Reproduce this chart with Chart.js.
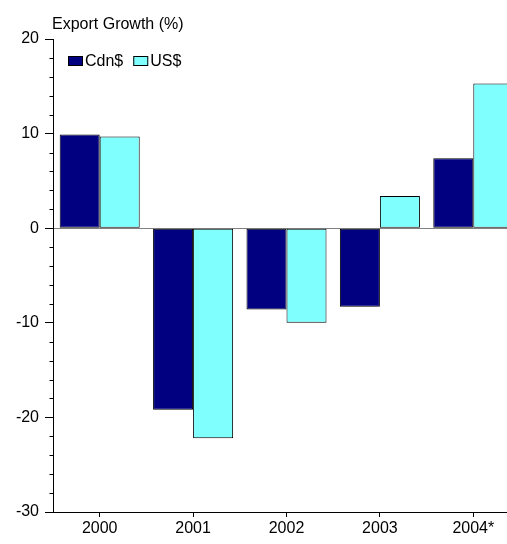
<!DOCTYPE html>
<html>
<head>
<meta charset="utf-8">
<script src="https://cdn.jsdelivr.net/npm/chart.js@4/dist/chart.umd.min.js"></script>
<style>
    html, body { margin: 0; padding: 0; background: #fff; overflow: hidden; }
    canvas { display: block; }
</style>
</head>
<body>
<canvas id="exportChart" width="520" height="544"></canvas>
<script>
const years = ['2000', '2001', '2002', '2003', '2004*'];
const cdnGrowth = [9.9, -19.2, -8.6, -8.3, 7.4];
const usGrowth = [9.7, -22.2, -10.0, 3.4, 15.3];
const yMin = -30;
const yMax = 20;

const fontFamily = '"Liberation Sans", Arial, sans-serif';

// short unlabelled ticks every 2 points between the labelled ones
const minorTicks = {
    id: 'minorTicks',
    afterDraw(chart) {
        const y = chart.scales.y;
        const ctx = chart.ctx;
        const x0 = Math.round(y.right) + 0.5;
        ctx.save();
        ctx.strokeStyle = '#000';
        ctx.lineWidth = 1;
        for (let v = yMin; v <= yMax; v += 2) {
            if (v % 10 === 0) continue;
            const py = Math.round(y.getPixelForValue(v)) + 0.5;
            ctx.beginPath();
            ctx.moveTo(x0 - 4, py);
            ctx.lineTo(x0, py);
            ctx.stroke();
        }
        ctx.restore();
    }
};

// title above the axis and a one-row legend in the top-left of the plot
const titleAndKey = {
    id: 'titleAndKey',
    afterDraw(chart) {
        const ctx = chart.ctx;
        const area = chart.chartArea;
        ctx.save();
        ctx.fillStyle = '#000';
        ctx.font = '16px ' + fontFamily;
        ctx.textBaseline = 'alphabetic';
        ctx.fillText('Export Growth (%)', 52, 29);

        let x = area.left + 15;
        const top = area.top + 17;
        chart.data.datasets.forEach(ds => {
            ctx.fillStyle = ds.backgroundColor;
            ctx.fillRect(x, top, 15, 10);
            ctx.strokeStyle = '#000';
            ctx.lineWidth = 1;
            ctx.strokeRect(x + 0.5, top + 0.5, 14, 9);
            ctx.fillStyle = '#000';
            ctx.fillText(ds.label, x + 17, top + 10);
            x += 17 + ctx.measureText(ds.label).width + 10;
        });
        ctx.restore();
    }
};

new Chart(document.getElementById('exportChart'), {
    type: 'bar',
    data: {
        labels: years,
        datasets: [{
            label: 'Cdn$',
            data: cdnGrowth,
            backgroundColor: '#000080',
            borderColor: '#000',
            borderWidth: 1,
            borderSkipped: false
        }, {
            label: 'US$',
            data: usGrowth,
            backgroundColor: '#80FFFF',
            borderColor: '#000',
            borderWidth: 1,
            borderSkipped: false
        }]
    },
    options: {
        responsive: false,
        animation: false,
        layout: { padding: { top: 39, left: 0, right: 0, bottom: 0 } },
        datasets: { bar: { categoryPercentage: 0.857, barPercentage: 1.0 } },
        plugins: {
            legend: { display: false },
            tooltip: { enabled: false }
        },
        scales: {
            x: {
                grid: {
                    offset: false,
                    drawOnChartArea: false,
                    tickLength: 5,
                    tickColor: '#000'
                },
                border: { color: '#000' },
                ticks: {
                    color: '#000',
                    font: { family: fontFamily, size: 16 },
                    padding: 2,
                    maxRotation: 0
                },
                afterFit(scale) { scale.height = 32; }
            },
            y: {
                min: yMin,
                max: yMax,
                grid: {
                    tickLength: 8,
                    tickColor: '#000',
                    color: ctx => ctx.tick && ctx.tick.value === 0 ? '#808080' : 'rgba(0,0,0,0)'
                },
                border: { color: '#000' },
                ticks: {
                    stepSize: 10,
                    color: '#000',
                    font: { family: fontFamily, size: 16 },
                    padding: 6
                },
                afterFit(scale) { scale.width = 53; }
            }
        }
    },
    plugins: [minorTicks, titleAndKey]
});
</script>
</body>
</html>
